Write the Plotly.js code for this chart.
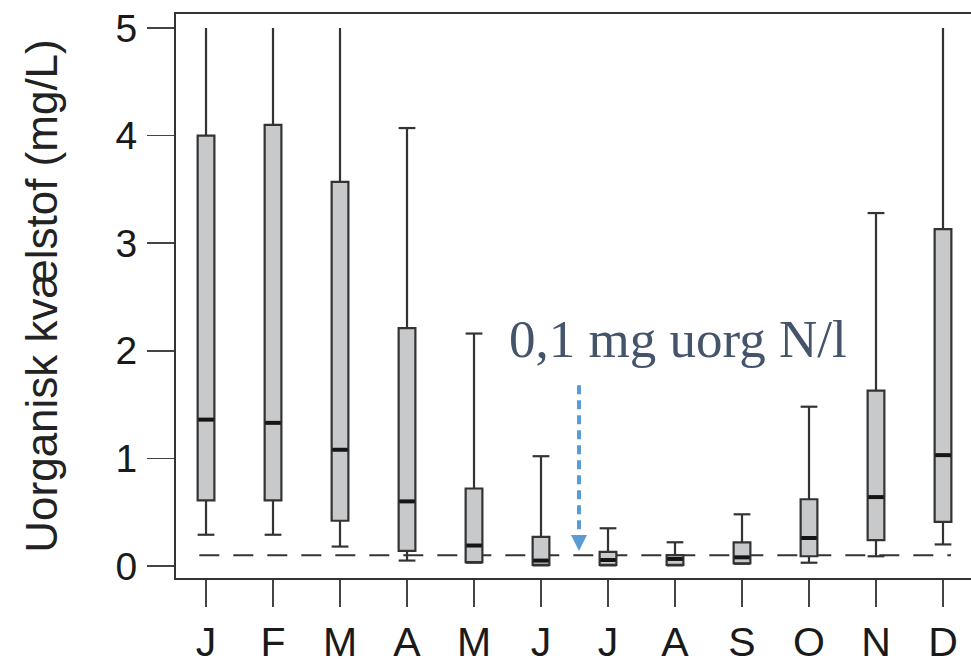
<!DOCTYPE html>
<html>
<head>
<meta charset="utf-8">
<script src="https://cdn.plot.ly/plotly-3.0.1.min.js"></script>
<style>
html,body{margin:0;padding:0;overflow:hidden;background:#fff;}
#chart{width:1000px;height:665px;}
</style>
</head>
<body>
<div id="chart"></div>
<script>
// Month labels
const months = ['J','F','M','A','M','J','J','A','S','O','N','D'];
// Box statistics (mg/L)
const q1     = [0.61, 0.61, 0.42, 0.14, 0.035, 0.01, 0.01, 0.01, 0.025, 0.09, 0.24, 0.41];
const median = [1.36, 1.33, 1.08, 0.60, 0.19, 0.05, 0.055, 0.065, 0.08, 0.26, 0.64, 1.03];
const q3     = [4.00, 4.10, 3.57, 2.21, 0.72, 0.27, 0.13, 0.10, 0.22, 0.62, 1.63, 3.13];
const lowerW = [0.29, 0.29, 0.18, 0.05, 0.03, 0.005, 0.005, 0.005, 0.02, 0.03, 0.09, 0.20];
const upperW = [5.0, 5.0, 5.0, 4.07, 2.16, 1.02, 0.35, 0.22, 0.48, 1.48, 3.28, 5.0];
// Reference threshold
const threshold = 0.1;
const yTicks = [0, 1, 2, 3, 4, 5];
const yMaxShown = 5;
const annotationText = '0,1 mg uorg N/l';
const yTitle = 'Uorganisk kvælstof (mg/L)';

const idx = months.map((m, i) => i);
const halfW = 0.125;

const boxTrace = {
  type: 'box',
  x: idx,
  q1: q1, median: median, q3: q3,
  lowerfence: lowerW, upperfence: upperW,
  width: 2 * halfW,
  whiskerwidth: 0,
  boxpoints: false,
  fillcolor: '#c8c9cb',
  line: {color: '#333333', width: 2.2},
  hoverinfo: 'skip',
  showlegend: false
};

// whisker caps (upper cap only where the whisker ends inside the plotted range)
const capX = [], capY = [];
idx.forEach(i => {
  capX.push(i - halfW, i + halfW, null); capY.push(lowerW[i], lowerW[i], null);
  if (upperW[i] < yMaxShown) { capX.push(i - halfW, i + halfW, null); capY.push(upperW[i], upperW[i], null); }
});
const capTrace = {
  type: 'scatter', mode: 'lines', x: capX, y: capY,
  line: {color: '#333333', width: 2.2}, hoverinfo: 'skip', showlegend: false
};

const medX = [], medY = [];
idx.forEach(i => { medX.push(i - halfW + 0.01, i + halfW - 0.01, null); medY.push(median[i], median[i], null); });
const medTrace = {
  type: 'scatter', mode: 'lines', x: medX, y: medY,
  line: {color: '#151515', width: 4}, hoverinfo: 'skip', showlegend: false
};

const arrowX = 5.567;

const layout = {
  width: 1000, height: 665,
  margin: {l: 176, r: 17, t: 14, b: 87},
  paper_bgcolor: '#fff', plot_bgcolor: '#fff',
  xaxis: {
    range: [-0.448, 11.597],
    tickmode: 'array', tickvals: idx, ticktext: months,
    ticks: 'outside', ticklen: 27, tickwidth: 1.5, tickcolor: '#444',
    showline: true, linecolor: '#333', linewidth: 2, mirror: true,
    showgrid: false, zeroline: false,
    tickfont: {family: 'Liberation Sans, Arial, sans-serif', size: 41, color: '#1a1a1a'},
    ticklabelstandoff: 0
  },
  yaxis: {
    range: [-0.112, 5.130],
    tickmode: 'array', tickvals: yTicks,
    ticks: 'outside', ticklen: 27, tickwidth: 1.5, tickcolor: '#444',
    showline: true, linecolor: '#333', linewidth: 2, mirror: true,
    showgrid: false, zeroline: false,
    tickfont: {family: 'Liberation Sans, Arial, sans-serif', size: 39, color: '#1a1a1a'},
    ticklabelstandoff: 2,
    title: {text: yTitle, font: {family: 'Liberation Sans, Arial, sans-serif', size: 44, color: '#222'}, standoff: 44}
  },
  shapes: [
    {type: 'line', xref: 'x', yref: 'y', layer: 'below', x0: -0.1, x1: 11.12, y0: threshold, y1: threshold,
     line: {color: '#333', width: 2, dash: '20px,14px'}},
    {type: 'line', xref: 'x', yref: 'y', x0: arrowX, x1: arrowX, y0: 1.68, y1: 0.27,
     line: {color: '#5B9BD5', width: 4, dash: '9px,6px'}},
    {type: 'path', xref: 'x', yref: 'y', xsizemode: 'pixel', ysizemode: 'pixel',
     xanchor: arrowX, yanchor: 0.14, path: 'M-8,16 L8,16 L0,0 Z',
     fillcolor: '#5B9BD5', line: {width: 0}}
  ],
  annotations: [
    {xref: 'x', yref: 'y', x: 7.04, y: 2.11, text: annotationText, showarrow: false,
     xanchor: 'center', yanchor: 'middle',
     font: {family: 'Liberation Serif, Times New Roman, serif', size: 53, color: '#44546A'}}
  ]
};

Plotly.newPlot('chart', [boxTrace, capTrace, medTrace], layout, {displayModeBar: false, staticPlot: true});
</script>
</body>
</html>
